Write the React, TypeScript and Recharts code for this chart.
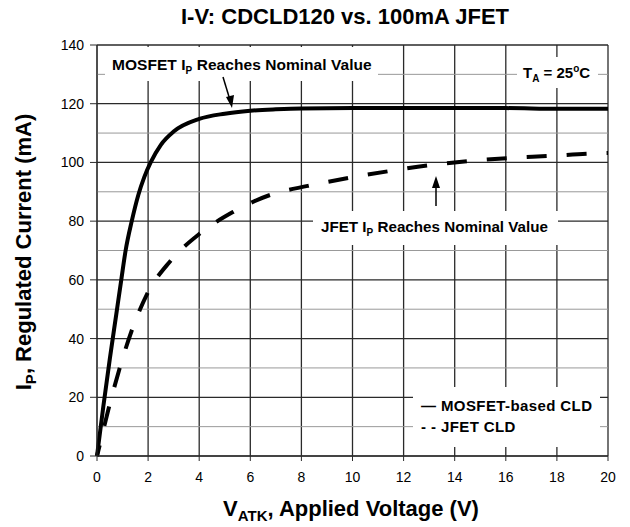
import { LineChart, Line, XAxis, YAxis, CartesianGrid, ReferenceLine } from "recharts";

const mosfetV = [0, 0.25, 0.5, 0.75, 0.95, 1.12, 1.36, 1.62, 1.85, 2.1, 2.5, 3, 4, 5, 6, 7, 8, 10, 12, 14, 16, 18, 20];
const mosfetI = [0, 17, 33, 48, 60, 70, 80, 89, 95, 100, 106, 110.5, 114.8, 116.6, 117.6, 118.1, 118.4, 118.5, 118.5, 118.5, 118.5, 118.3, 118.3];

const jfetV = [0, 0.1, 0.45, 0.87, 1.35, 1.95, 2.85, 4, 5.3, 6.8, 8.25, 9.9, 11.4, 12.95, 14.5, 16.1, 17.7, 19.25, 20];
const jfetI = [0, 3.5, 16, 29.4, 42.5, 55, 66.2, 75.6, 83, 89, 92, 94.8, 97, 99, 100.4, 101.5, 102.2, 103, 103.2];

const xTicks = [0, 2, 4, 6, 8, 10, 12, 14, 16, 18, 20];
const yTicks = [0, 20, 40, 60, 80, 100, 120, 140];
const yMinor = [10, 30, 50, 70, 90, 110, 130];

const mosfet = mosfetV.map((v, i) => ({ v, i: mosfetI[i] }));
const jfet = jfetV.map((v, i) => ({ v, i: jfetI[i] }));

const font = "'Liberation Sans', Arial, sans-serif";

export default function App() {
  return (
    <div style={{ position: "absolute", left: 0, top: 0, width: 630, height: 527, background: "#fff", fontFamily: font }}>
      <LineChart width={630} height={527} margin={{ top: 45, right: 22, left: 0, bottom: 41 }}>
        <CartesianGrid stroke="#2a2a2a" strokeWidth={1.3} />
        {yMinor.map((y) => (
          <ReferenceLine key={y} y={y} stroke="#999" strokeWidth={1} />
        ))}
        <XAxis
          type="number"
          dataKey="v"
          domain={[0, 20]}
          ticks={xTicks}
          height={30}
          tickSize={5}
          tickMargin={11}
          stroke="#2a2a2a"
          tick={{ fill: "#000", fontSize: 14, fontFamily: font }}
        />
        <YAxis
          type="number"
          dataKey="i"
          domain={[0, 140]}
          ticks={yTicks}
          width={97}
          tickSize={7}
          tickMargin={6}
          stroke="#2a2a2a"
          tick={{ fill: "#000", fontSize: 14, fontFamily: font }}
        />
        <Line data={mosfet} dataKey="i" type="monotone" stroke="#000" strokeWidth={4} dot={false} isAnimationActive={false} />
        <Line data={jfet} dataKey="i" type="monotone" stroke="#000" strokeWidth={4} strokeDasharray="20 20" strokeDashoffset={9} dot={false} isAnimationActive={false} />
      </LineChart>
      <svg width={630} height={527} style={{ position: "absolute", left: 0, top: 0, pointerEvents: "none" }} fontFamily={font} fontWeight="bold">
        <text x={345} y={24} textAnchor="middle" fontSize={22}>I-V: CDCLD120 vs. 100mA JFET</text>
        <text x={351} y={516} textAnchor="middle" fontSize={22}>
          V<tspan fontSize={15} dy={5}>ATK</tspan><tspan dy={-5}>, Applied Voltage (V)</tspan>
        </text>
        <text transform="translate(31,252) rotate(-90)" textAnchor="middle" fontSize={22}>
          I<tspan fontSize={15} dy={5}>P</tspan><tspan dy={-5}>, Regulated Current (mA)</tspan>
        </text>

        <rect x={105} y={47} width={273} height={34} fill="#fff" />
        <text x={112} y={70} fontSize={15.5} letterSpacing={0.05}>
          MOSFET I<tspan fontSize={10} dy={4}>P</tspan><tspan dy={-4}> Reaches Nominal Value</tspan>
        </text>
        <line x1={223} y1={77} x2={230} y2={100} stroke="#000" strokeWidth={1.5} />
        <polygon points="232,108 226,97 234,95" fill="#000" />

        <rect x={517} y={57} width={81} height={31} fill="#fff" />
        <text x={523} y={78} fontSize={15}>
          T<tspan fontSize={10} dy={4}>A</tspan><tspan dy={-4}> = 25</tspan><tspan fontSize={10} dy={-6}>o</tspan><tspan dy={6}>C</tspan>
        </text>

        <rect x={313} y={211} width={245} height={34} fill="#fff" />
        <text x={321} y={232} fontSize={15.2}>
          JFET I<tspan fontSize={10} dy={4}>P</tspan><tspan dy={-4}> Reaches Nominal Value</tspan>
        </text>
        <line x1={436} y1={206} x2={436} y2={186} stroke="#000" strokeWidth={1.5} />
        <polygon points="436,176 432,188 440,188" fill="#000" />

        <rect x={413} y={387} width={187} height={60} fill="#fff" />
        <text x={421} y={411} fontSize={15} letterSpacing={0.4}>— MOSFET-based CLD</text>
        <text x={421} y={432} fontSize={15} letterSpacing={0.4}>- - JFET CLD</text>
      </svg>
    </div>
  );
}
